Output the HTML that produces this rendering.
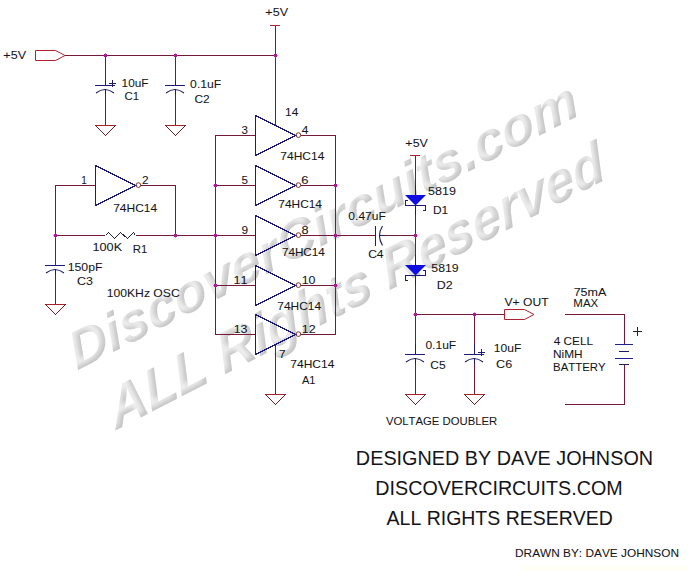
<!DOCTYPE html>
<html><head><meta charset="utf-8"><style>
html,body{margin:0;padding:0;background:#fff;}
svg{display:block;}
text{font-family:"Liberation Sans",sans-serif;font-kerning:none;}
.t{stroke:#141418;stroke-width:0.05px;}
</style></head><body>
<svg width="687" height="571" viewBox="0 0 687 571">
<defs><filter id="emb" filterUnits="userSpaceOnUse" x="0" y="0" width="687" height="571" color-interpolation-filters="sRGB">
  <feGaussianBlur in="SourceAlpha" stdDeviation="2.4" result="b"/>
  <feOffset in="b" dx="-3.6" dy="-1.6" result="bo"/>
  <feComposite in="SourceAlpha" in2="bo" operator="out" result="band"/>
  <feFlood flood-color="#c4c4c4" result="dk"/>
  <feComposite in="dk" in2="band" operator="in" result="dkb"/>
  <feFlood flood-color="#f1f1f1" result="lt"/>
  <feComposite in="lt" in2="SourceAlpha" operator="in" result="face"/>
  <feMerge result="m"><feMergeNode in="face"/><feMergeNode in="dkb"/></feMerge>
  <feGaussianBlur in="m" stdDeviation="0.7"/>
</filter></defs>
<rect width="687" height="571" fill="#fff"/><rect x="521" y="566" width="166" height="5" fill="#fffff5"/>

<g font-family="Liberation Sans" font-weight="bold" font-style="italic" font-size="55.08" filter="url(#emb)" fill="#000">
  <text transform="matrix(0.8915,-0.453,0.3422,0.8945,77.15,370.39)">DiscoverCircuits.com</text>
  <text transform="matrix(0.8829,-0.4518,0.3082,0.9885,116.18,429.98)">ALL Rights Reserved</text>
</g>

<polygon points="35.5,50.5 55.5,50.5 65,55.5 55.5,60.5 35.5,60.5" fill="none" stroke="#b02232" stroke-width="1"/>
<rect x="65" y="55" width="211" height="1" fill="#741a38"/>
<rect x="275" y="26" width="1" height="99" fill="#741a38"/>
<rect x="270" y="25" width="10" height="1" fill="#b02232"/>
<rect x="105" y="56" width="1" height="25" fill="#741a38"/>
<rect x="105" y="81" width="1" height="4" fill="#1c1a74"/>
<rect x="105" y="95" width="1" height="30" fill="#741a38"/>
<rect x="95" y="125" width="21" height="1" fill="#a8222a"/>
<polyline points="95.5,125.5 105.5,135.5 115.5,125.5" fill="none" stroke="#6a2028" stroke-width="1" shape-rendering="crispEdges"/>
<rect x="175" y="56" width="1" height="25" fill="#741a38"/>
<rect x="175" y="81" width="1" height="4" fill="#1c1a74"/>
<rect x="175" y="95" width="1" height="30" fill="#741a38"/>
<rect x="165" y="125" width="21" height="1" fill="#a8222a"/>
<polyline points="165.5,125.5 175.5,135.5 185.5,125.5" fill="none" stroke="#6a2028" stroke-width="1" shape-rendering="crispEdges"/>
<rect x="95" y="85" width="20" height="1" fill="#1c1a74"/>
<path d="M96,93 Q105,86 114,93" fill="none" stroke="#1c1a60" stroke-width="1.1"/>
<rect x="105" y="89" width="1" height="6" fill="#1c1a74"/>
<rect x="109" y="83" width="7" height="1" fill="#1c1a74"/>
<rect x="112" y="80" width="1" height="7" fill="#1c1a74"/>
<rect x="165" y="85" width="20" height="1" fill="#1c1a74"/>
<path d="M166,93 Q175,86 184,93" fill="none" stroke="#1c1a60" stroke-width="1.1"/>
<rect x="175" y="89" width="1" height="6" fill="#1c1a74"/>
<rect x="215" y="135" width="1" height="200" fill="#741a38"/>
<rect x="335" y="135" width="1" height="200" fill="#741a38"/>
<rect x="215" y="135" width="40" height="1" fill="#741a38"/>
<rect x="301" y="135" width="35" height="1" fill="#741a38"/>
<rect x="215" y="185" width="40" height="1" fill="#741a38"/>
<rect x="301" y="185" width="35" height="1" fill="#741a38"/>
<rect x="215" y="235" width="40" height="1" fill="#741a38"/>
<rect x="301" y="235" width="35" height="1" fill="#741a38"/>
<rect x="215" y="285" width="40" height="1" fill="#741a38"/>
<rect x="301" y="285" width="35" height="1" fill="#741a38"/>
<rect x="215" y="334" width="40" height="1" fill="#741a38"/>
<rect x="301" y="334" width="35" height="1" fill="#741a38"/>
<polygon points="255.5,115.5 255.5,155.5 295.5,135.5" fill="none" stroke="#1c1a74" stroke-width="1" shape-rendering="crispEdges"/>
<circle cx="298.4" cy="135.1" r="2.35" fill="none" stroke="#84362c" stroke-width="1"/>
<polygon points="255.5,165.5 255.5,205.5 295.5,185.5" fill="none" stroke="#1c1a74" stroke-width="1" shape-rendering="crispEdges"/>
<circle cx="298.4" cy="185.1" r="2.35" fill="none" stroke="#84362c" stroke-width="1"/>
<polygon points="255.5,215.5 255.5,255.5 295.5,235.5" fill="none" stroke="#1c1a74" stroke-width="1" shape-rendering="crispEdges"/>
<circle cx="298.4" cy="235.1" r="2.35" fill="none" stroke="#84362c" stroke-width="1"/>
<polygon points="255.5,265.5 255.5,305.5 295.5,285.5" fill="none" stroke="#1c1a74" stroke-width="1" shape-rendering="crispEdges"/>
<circle cx="298.4" cy="285.1" r="2.35" fill="none" stroke="#84362c" stroke-width="1"/>
<polygon points="255.5,314.5 255.5,354.5 295.5,334.5" fill="none" stroke="#1c1a74" stroke-width="1" shape-rendering="crispEdges"/>
<circle cx="298.4" cy="334.1" r="2.35" fill="none" stroke="#84362c" stroke-width="1"/>
<polygon points="95.5,165.5 95.5,205.5 135.5,185.5" fill="none" stroke="#1c1a74" stroke-width="1" shape-rendering="crispEdges"/>
<circle cx="138.4" cy="185.1" r="2.35" fill="none" stroke="#84362c" stroke-width="1"/>
<rect x="275" y="345" width="1" height="49" fill="#741a38"/>
<rect x="265" y="394" width="21" height="1" fill="#a8222a"/>
<polyline points="265.5,394.5 275.5,404.5 285.5,394.5" fill="none" stroke="#6a2028" stroke-width="1" shape-rendering="crispEdges"/>
<rect x="55" y="185" width="40" height="1" fill="#741a38"/>
<rect x="141" y="185" width="35" height="1" fill="#741a38"/>
<rect x="55" y="185" width="1" height="80" fill="#741a38"/>
<rect x="55" y="275" width="1" height="29" fill="#741a38"/>
<rect x="175" y="185" width="1" height="51" fill="#741a38"/>
<rect x="55" y="235" width="50" height="1" fill="#741a38"/>
<rect x="136" y="235" width="119" height="1" fill="#741a38"/>
<polyline points="105.5,235.5 108.5,232.5 114.5,238.5 120.5,232.5 127.5,238.5 133.5,232.5 135.5,235.5" fill="none" stroke="#20204a" stroke-width="1" shape-rendering="crispEdges"/>
<rect x="45" y="265" width="20" height="1" fill="#1c1a74"/>
<path d="M46,273 Q55,266 64,273" fill="none" stroke="#1c1a60" stroke-width="1.1"/>
<rect x="55" y="269" width="1" height="6" fill="#1c1a74"/>
<rect x="45" y="304" width="21" height="1" fill="#a8222a"/>
<polyline points="45.5,304.5 55.5,314.5 65.5,304.5" fill="none" stroke="#6a2028" stroke-width="1" shape-rendering="crispEdges"/>
<rect x="336" y="235" width="39" height="1" fill="#741a38"/>
<rect x="383" y="235" width="33" height="1" fill="#741a38"/>
<rect x="375" y="226" width="1" height="20" fill="#1c1a74"/>
<path d="M382.5,226 Q376.5,235.5 382.5,245.5" fill="none" stroke="#1c1a60" stroke-width="1.1"/>
<rect x="380" y="235" width="5" height="1" fill="#1c1a74"/>
<rect x="410" y="155" width="10" height="1" fill="#b02232"/>
<rect x="415" y="156" width="1" height="29" fill="#741a38"/>
<rect x="415" y="185" width="1" height="10" fill="#1c1a74"/>
<polygon points="405,195 426,195 415.5,205.5" fill="#0e0ee0"/>
<rect x="405" y="205" width="21" height="1" fill="#1c1a74"/>
<rect x="405" y="200" width="1" height="6" fill="#1c1a74"/>
<rect x="406" y="200" width="2" height="1" fill="#1c1a74"/>
<rect x="425" y="205" width="1" height="6" fill="#1c1a74"/>
<rect x="423" y="210" width="2" height="1" fill="#1c1a74"/>
<rect x="415" y="205" width="1" height="10" fill="#1c1a74"/>
<rect x="415" y="215" width="1" height="40" fill="#741a38"/>
<rect x="415" y="255" width="1" height="10" fill="#1c1a74"/>
<polygon points="405,265 426,265 415.5,275.5" fill="#0e0ee0"/>
<rect x="405" y="275" width="21" height="1" fill="#1c1a74"/>
<rect x="405" y="275" width="1" height="6" fill="#1c1a74"/>
<rect x="406" y="280" width="2" height="1" fill="#1c1a74"/>
<rect x="425" y="270" width="1" height="6" fill="#1c1a74"/>
<rect x="423" y="270" width="2" height="1" fill="#1c1a74"/>
<rect x="415" y="275" width="1" height="10" fill="#1c1a74"/>
<rect x="415" y="285" width="1" height="59" fill="#741a38"/>
<rect x="415" y="344" width="1" height="10" fill="#1c1a74"/>
<rect x="416" y="314" width="88" height="1" fill="#741a38"/>
<polygon points="504.5,309.5 524.5,309.5 534,314.5 524.5,319.5 504.5,319.5" fill="none" stroke="#b02232" stroke-width="1"/>
<rect x="474" y="315" width="1" height="29" fill="#741a38"/>
<rect x="474" y="344" width="1" height="10" fill="#1c1a74"/>
<rect x="415" y="364" width="1" height="30" fill="#741a38"/>
<rect x="405" y="394" width="21" height="1" fill="#a8222a"/>
<polyline points="405.5,394.5 415.5,404.5 425.5,394.5" fill="none" stroke="#6a2028" stroke-width="1" shape-rendering="crispEdges"/>
<rect x="474" y="364" width="1" height="30" fill="#741a38"/>
<rect x="464" y="394" width="21" height="1" fill="#a8222a"/>
<polyline points="464.5,394.5 474.5,404.5 484.5,394.5" fill="none" stroke="#6a2028" stroke-width="1" shape-rendering="crispEdges"/>
<rect x="405" y="354" width="20" height="1" fill="#1c1a74"/>
<path d="M406,362 Q415,355 424,362" fill="none" stroke="#1c1a60" stroke-width="1.1"/>
<rect x="415" y="358" width="1" height="6" fill="#1c1a74"/>
<rect x="464" y="354" width="20" height="1" fill="#1c1a74"/>
<path d="M465,362 Q474,355 483,362" fill="none" stroke="#1c1a60" stroke-width="1.1"/>
<rect x="474" y="358" width="1" height="6" fill="#1c1a74"/>
<rect x="478" y="352" width="7" height="1" fill="#1c1a74"/>
<rect x="481" y="349" width="1" height="7" fill="#1c1a74"/>
<rect x="565" y="314" width="60" height="1" fill="#741a38"/>
<rect x="624" y="314" width="1" height="30" fill="#741a38"/>
<rect x="615" y="344" width="18" height="1" fill="#221f8a"/>
<rect x="619" y="351" width="10" height="1" fill="#1c1a60"/>
<rect x="615" y="358" width="18" height="1" fill="#221f8a"/>
<rect x="619" y="364" width="10" height="1" fill="#1c1a60"/>
<rect x="624" y="365" width="1" height="40" fill="#741a38"/>
<rect x="565" y="404" width="60" height="1" fill="#741a38"/>
<rect x="633" y="331" width="9" height="1" fill="#202020"/>
<rect x="637" y="327" width="1" height="9" fill="#202020"/>
<rect x="104" y="54" width="3" height="3" fill="#b0189c"/>
<rect x="103" y="55" width="5" height="1" fill="#b0189c" opacity=".45"/>
<rect x="105" y="53" width="1" height="5" fill="#b0189c" opacity=".45"/>
<rect x="174" y="54" width="3" height="3" fill="#b0189c"/>
<rect x="173" y="55" width="5" height="1" fill="#b0189c" opacity=".45"/>
<rect x="175" y="53" width="1" height="5" fill="#b0189c" opacity=".45"/>
<rect x="274" y="54" width="3" height="3" fill="#b0189c"/>
<rect x="273" y="55" width="5" height="1" fill="#b0189c" opacity=".45"/>
<rect x="275" y="53" width="1" height="5" fill="#b0189c" opacity=".45"/>
<rect x="54" y="234" width="3" height="3" fill="#b0189c"/>
<rect x="53" y="235" width="5" height="1" fill="#b0189c" opacity=".45"/>
<rect x="55" y="233" width="1" height="5" fill="#b0189c" opacity=".45"/>
<rect x="174" y="234" width="3" height="3" fill="#b0189c"/>
<rect x="173" y="235" width="5" height="1" fill="#b0189c" opacity=".45"/>
<rect x="175" y="233" width="1" height="5" fill="#b0189c" opacity=".45"/>
<rect x="214" y="184" width="3" height="3" fill="#b0189c"/>
<rect x="213" y="185" width="5" height="1" fill="#b0189c" opacity=".45"/>
<rect x="215" y="183" width="1" height="5" fill="#b0189c" opacity=".45"/>
<rect x="214" y="234" width="3" height="3" fill="#b0189c"/>
<rect x="213" y="235" width="5" height="1" fill="#b0189c" opacity=".45"/>
<rect x="215" y="233" width="1" height="5" fill="#b0189c" opacity=".45"/>
<rect x="214" y="284" width="3" height="3" fill="#b0189c"/>
<rect x="213" y="285" width="5" height="1" fill="#b0189c" opacity=".45"/>
<rect x="215" y="283" width="1" height="5" fill="#b0189c" opacity=".45"/>
<rect x="334" y="184" width="3" height="3" fill="#b0189c"/>
<rect x="333" y="185" width="5" height="1" fill="#b0189c" opacity=".45"/>
<rect x="335" y="183" width="1" height="5" fill="#b0189c" opacity=".45"/>
<rect x="334" y="234" width="3" height="3" fill="#b0189c"/>
<rect x="333" y="235" width="5" height="1" fill="#b0189c" opacity=".45"/>
<rect x="335" y="233" width="1" height="5" fill="#b0189c" opacity=".45"/>
<rect x="334" y="284" width="3" height="3" fill="#b0189c"/>
<rect x="333" y="285" width="5" height="1" fill="#b0189c" opacity=".45"/>
<rect x="335" y="283" width="1" height="5" fill="#b0189c" opacity=".45"/>
<rect x="414" y="234" width="3" height="3" fill="#b0189c"/>
<rect x="413" y="235" width="5" height="1" fill="#b0189c" opacity=".45"/>
<rect x="415" y="233" width="1" height="5" fill="#b0189c" opacity=".45"/>
<rect x="414" y="313" width="3" height="3" fill="#b0189c"/>
<rect x="413" y="314" width="5" height="1" fill="#b0189c" opacity=".45"/>
<rect x="415" y="312" width="1" height="5" fill="#b0189c" opacity=".45"/>
<rect x="473" y="313" width="3" height="3" fill="#b0189c"/>
<rect x="472" y="314" width="5" height="1" fill="#b0189c" opacity=".45"/>
<rect x="474" y="312" width="1" height="5" fill="#b0189c" opacity=".45"/>
<text class="t" x="3.39" y="59" font-size="10.60" textLength="22.67" lengthAdjust="spacingAndGlyphs" fill="#141418">+5V</text>
<text class="t" x="121.60" y="87" font-size="10.60" textLength="26.87" lengthAdjust="spacingAndGlyphs" fill="#141418">10uF</text>
<text class="t" x="124.42" y="100" font-size="10.60" textLength="14.64" lengthAdjust="spacingAndGlyphs" fill="#141418">C1</text>
<text class="t" x="190.13" y="88" font-size="10.60" textLength="31.06" lengthAdjust="spacingAndGlyphs" fill="#141418">0.1uF</text>
<text class="t" x="194.40" y="103" font-size="10.60" textLength="15.20" lengthAdjust="spacingAndGlyphs" fill="#141418">C2</text>
<text class="t" x="265.39" y="16" font-size="10.60" textLength="22.67" lengthAdjust="spacingAndGlyphs" fill="#141418">+5V</text>
<text class="t" x="285.09" y="116" font-size="10.60" textLength="13.26" lengthAdjust="spacingAndGlyphs" fill="#141418">14</text>
<text class="t" x="241.56" y="134" font-size="10.60" textLength="6.45" lengthAdjust="spacingAndGlyphs" fill="#141418">3</text>
<text class="t" x="301.73" y="134" font-size="10.60" textLength="6.62" lengthAdjust="spacingAndGlyphs" fill="#141418">4</text>
<text class="t" x="280.39" y="160" font-size="10.60" textLength="43.97" lengthAdjust="spacingAndGlyphs" fill="#141418">74HC14</text>
<text class="t" x="241.54" y="184" font-size="10.60" textLength="6.45" lengthAdjust="spacingAndGlyphs" fill="#141418">5</text>
<text class="t" x="301.34" y="184" font-size="10.60" textLength="7.23" lengthAdjust="spacingAndGlyphs" fill="#141418">6</text>
<text class="t" x="278.39" y="207.5" font-size="10.60" textLength="43.56" lengthAdjust="spacingAndGlyphs" fill="#141418">74HC14</text>
<text class="t" x="241.44" y="234" font-size="10.60" textLength="6.62" lengthAdjust="spacingAndGlyphs" fill="#141418">9</text>
<text class="t" x="301.44" y="234" font-size="10.60" textLength="7.11" lengthAdjust="spacingAndGlyphs" fill="#141418">8</text>
<text class="t" x="281.90" y="256" font-size="10.60" textLength="42.94" lengthAdjust="spacingAndGlyphs" fill="#141418">74HC14</text>
<text class="t" x="233.64" y="284" font-size="10.60" textLength="13.97" lengthAdjust="spacingAndGlyphs" fill="#141418">11</text>
<text class="t" x="301.76" y="284" font-size="10.60" textLength="13.72" lengthAdjust="spacingAndGlyphs" fill="#141418">10</text>
<text class="t" x="277.39" y="309.5" font-size="10.60" textLength="43.66" lengthAdjust="spacingAndGlyphs" fill="#141418">74HC14</text>
<text class="t" x="233.65" y="333" font-size="10.60" textLength="13.90" lengthAdjust="spacingAndGlyphs" fill="#141418">13</text>
<text class="t" x="301.75" y="333" font-size="10.60" textLength="13.88" lengthAdjust="spacingAndGlyphs" fill="#141418">12</text>
<text class="t" x="278.99" y="358.4" font-size="10.60" textLength="6.61" lengthAdjust="spacingAndGlyphs" fill="#141418">7</text>
<text class="t" x="290.39" y="368" font-size="10.60" textLength="43.97" lengthAdjust="spacingAndGlyphs" fill="#141418">74HC14</text>
<text class="t" x="301.98" y="384" font-size="10.60" textLength="13.56" lengthAdjust="spacingAndGlyphs" fill="#141418">A1</text>
<text class="t" x="81.24" y="184" font-size="10.60" textLength="5.55" lengthAdjust="spacingAndGlyphs" fill="#141418">1</text>
<text class="t" x="142.00" y="184" font-size="10.60" textLength="6.59" lengthAdjust="spacingAndGlyphs" fill="#141418">2</text>
<text class="t" x="113.19" y="212" font-size="10.60" textLength="43.97" lengthAdjust="spacingAndGlyphs" fill="#141418">74HC14</text>
<text class="t" x="92.53" y="250.6" font-size="10.60" textLength="29.61" lengthAdjust="spacingAndGlyphs" fill="#141418">100K</text>
<text class="t" x="132.87" y="252.7" font-size="10.60" textLength="14.48" lengthAdjust="spacingAndGlyphs" fill="#141418">R1</text>
<text class="t" x="67.66" y="271" font-size="10.60" textLength="34.83" lengthAdjust="spacingAndGlyphs" fill="#141418">150pF</text>
<text class="t" x="77.07" y="285" font-size="10.60" textLength="15.88" lengthAdjust="spacingAndGlyphs" fill="#141418">C3</text>
<text class="t" x="106.67" y="297" font-size="10.60" textLength="73.09" lengthAdjust="spacingAndGlyphs" fill="#141418">100KHz OSC</text>
<text class="t" x="405.39" y="146.5" font-size="10.60" textLength="22.46" lengthAdjust="spacingAndGlyphs" fill="#141418">+5V</text>
<text class="t" x="428.10" y="195" font-size="10.60" textLength="27.90" lengthAdjust="spacingAndGlyphs" fill="#141418">5819</text>
<text class="t" x="432.92" y="213.6" font-size="10.60" textLength="15.26" lengthAdjust="spacingAndGlyphs" fill="#141418">D1</text>
<text class="t" x="348.33" y="219.7" font-size="10.60" textLength="37.55" lengthAdjust="spacingAndGlyphs" fill="#141418">0.47uF</text>
<text class="t" x="368.19" y="257.6" font-size="10.60" textLength="15.36" lengthAdjust="spacingAndGlyphs" fill="#141418">C4</text>
<text class="t" x="431.31" y="271.8" font-size="10.60" textLength="27.38" lengthAdjust="spacingAndGlyphs" fill="#141418">5819</text>
<text class="t" x="436.68" y="288.6" font-size="10.60" textLength="15.95" lengthAdjust="spacingAndGlyphs" fill="#141418">D2</text>
<text class="t" x="504.55" y="306" font-size="10.60" textLength="44.03" lengthAdjust="spacingAndGlyphs" fill="#141418">V+ OUT</text>
<text class="t" x="425.43" y="349" font-size="10.60" textLength="30.75" lengthAdjust="spacingAndGlyphs" fill="#141418">0.1uF</text>
<text class="t" x="430.29" y="368.7" font-size="10.60" textLength="15.31" lengthAdjust="spacingAndGlyphs" fill="#141418">C5</text>
<text class="t" x="493.78" y="351.5" font-size="10.60" textLength="27.50" lengthAdjust="spacingAndGlyphs" fill="#141418">10uF</text>
<text class="t" x="496.06" y="367.5" font-size="10.60" textLength="16.09" lengthAdjust="spacingAndGlyphs" fill="#141418">C6</text>
<text class="t" x="385.95" y="425" font-size="10.60" textLength="111.27" lengthAdjust="spacingAndGlyphs" fill="#141418">VOLTAGE DOUBLER</text>
<text class="t" x="573.66" y="296.3" font-size="10.60" textLength="32.67" lengthAdjust="spacingAndGlyphs" fill="#141418">75mA</text>
<text class="t" x="573.36" y="306.8" font-size="10.60" textLength="24.88" lengthAdjust="spacingAndGlyphs" fill="#141418">MAX</text>
<text class="t" x="553.73" y="345" font-size="10.60" textLength="39.36" lengthAdjust="spacingAndGlyphs" fill="#141418">4 CELL</text>
<text class="t" x="553.03" y="358" font-size="10.60" textLength="29.64" lengthAdjust="spacingAndGlyphs" fill="#141418">NiMH</text>
<text class="t" x="553.07" y="371.2" font-size="10.60" textLength="52.48" lengthAdjust="spacingAndGlyphs" fill="#141418">BATTERY</text>
<text class="b" x="355.87" y="465" font-size="20.00" textLength="297.24" lengthAdjust="spacingAndGlyphs" fill="#141418">DESIGNED BY DAVE JOHNSON</text>
<text class="b" x="375.38" y="494.5" font-size="19.29" textLength="247.23" lengthAdjust="spacingAndGlyphs" fill="#141418">DISCOVERCIRCUITS.COM</text>
<text class="b" x="386.56" y="524.5" font-size="19.29" textLength="226.37" lengthAdjust="spacingAndGlyphs" fill="#141418">ALL RIGHTS RESERVED</text>
<text class="t" x="515.03" y="556.7" font-size="10.60" textLength="163.94" lengthAdjust="spacingAndGlyphs" fill="#141418">DRAWN BY: DAVE JOHNSON</text>
</svg>
</body></html>
